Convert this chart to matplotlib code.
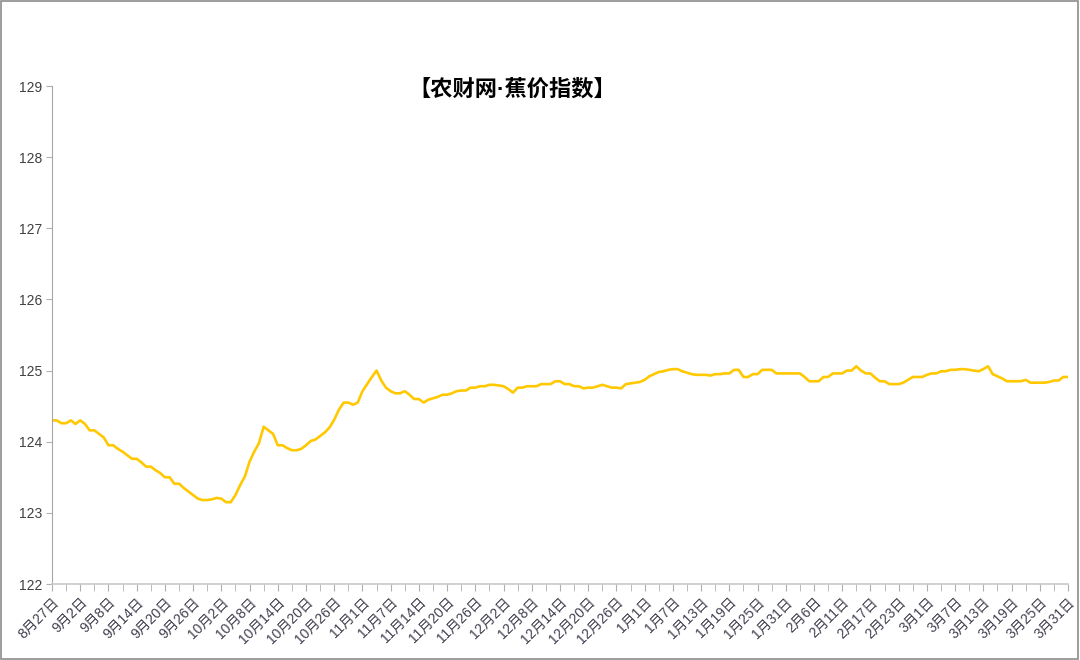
import numpy as np
import matplotlib
matplotlib.use('Agg')
import matplotlib.pyplot as plt
from matplotlib.patches import Rectangle

plt.rcParams['font.family'] = ['Liberation Sans', 'Noto Sans CJK SC', 'DejaVu Sans']

title = '【农财网·蕉价指数】'

# one label every 6 points
tick_labels = ['8月27日', '9月2日', '9月8日', '9月14日', '9月20日', '9月26日',
               '10月2日', '10月8日', '10月14日', '10月20日', '10月26日',
               '11月1日', '11月7日', '11月14日', '11月20日', '11月26日',
               '12月2日', '12月8日', '12月14日', '12月20日', '12月26日',
               '1月1日', '1月7日', '1月13日', '1月19日', '1月25日', '1月31日',
               '2月6日', '2月11日', '2月17日', '2月23日',
               '3月1日', '3月7日', '3月13日', '3月19日', '3月25日', '3月31日']

index_values = [
    124.30, 124.30, 124.26, 124.26, 124.30, 124.25, 124.30, 124.25, 124.16, 124.16,
    124.11, 124.06, 123.95, 123.95, 123.90, 123.86, 123.81, 123.76, 123.76, 123.71,
    123.65, 123.65, 123.60, 123.56, 123.50, 123.50, 123.41, 123.41, 123.35, 123.30,
    123.25, 123.20, 123.18, 123.18, 123.19, 123.21, 123.20, 123.15, 123.15, 123.25,
    123.39, 123.51, 123.72, 123.86, 123.98, 124.21, 124.16, 124.11, 123.95, 123.95,
    123.91, 123.88, 123.88, 123.90, 123.95, 124.01, 124.03, 124.08, 124.13, 124.20,
    124.31, 124.45, 124.55, 124.55, 124.52, 124.55, 124.71, 124.81, 124.91, 125.00,
    124.86, 124.76, 124.71, 124.68, 124.68, 124.71, 124.66, 124.60, 124.60, 124.55,
    124.59, 124.61, 124.63, 124.66, 124.66, 124.68, 124.71, 124.72, 124.72, 124.76,
    124.76, 124.78, 124.78, 124.80, 124.80, 124.79, 124.78, 124.74, 124.69, 124.76,
    124.76, 124.78, 124.78, 124.78, 124.81, 124.81, 124.81, 124.85, 124.85, 124.81,
    124.81, 124.78, 124.78, 124.75, 124.76, 124.76, 124.78, 124.80, 124.78, 124.76,
    124.76, 124.75, 124.81, 124.82, 124.83, 124.84, 124.87, 124.92, 124.95, 124.98,
    124.99, 125.01, 125.02, 125.02, 124.99, 124.97, 124.95, 124.94, 124.94, 124.94,
    124.93, 124.95, 124.95, 124.96, 124.96, 125.01, 125.01, 124.91, 124.91, 124.95,
    124.95, 125.01, 125.01, 125.01, 124.96, 124.96, 124.96, 124.96, 124.96, 124.96,
    124.91, 124.85, 124.85, 124.85, 124.91, 124.91, 124.96, 124.96, 124.96, 125.00,
    125.00, 125.06, 125.00, 124.96, 124.96, 124.90, 124.85, 124.85, 124.81, 124.81,
    124.81, 124.83, 124.87, 124.91, 124.91, 124.91, 124.94, 124.96, 124.96, 124.99,
    124.99, 125.01, 125.01, 125.02, 125.02, 125.01, 125.00, 124.99, 125.02, 125.06,
    124.95, 124.92, 124.89, 124.85, 124.85, 124.85, 124.85, 124.87, 124.83, 124.83,
    124.83, 124.83, 124.84, 124.86, 124.86, 124.91, 124.91,
]

x = np.arange(len(index_values))

fig = plt.figure(figsize=(10.8, 6.6), dpi=100)
ax = fig.add_axes([52 / 1080, 76 / 660, 1016 / 1080, 498 / 660])

ax.plot(x, index_values, color='#FFC800', linewidth=1.9)

ax.set_xlim(0, len(index_values) - 1)
ax.set_ylim(122, 129)
ax.set_yticks(range(122, 130))

ax.set_xticks(x[::6])
ax.set_xticklabels(tick_labels, rotation=45, ha='right', rotation_mode='anchor',
                   fontsize=10, color='#404050')
ax.set_xticks(x[::3], minor=True)
ax.tick_params(axis='x', which='both', length=5, color='#b0b0b0', pad=3)
ax.tick_params(axis='y', length=4, color='#b0b0b0', labelsize=10, labelcolor='#404040', pad=3)

for side in ['top', 'right']:
    ax.spines[side].set_visible(False)
ax.spines['left'].set_color('#a6a6a6')
ax.spines['bottom'].set_color('#c8c8c8')
ax.spines['bottom'].set_linewidth(1.2)

fig.text(512 / 1080, 1 - 90 / 660, title, ha='center', va='center',
         fontsize=16, fontweight='bold', family=['Liberation Sans', 'Noto Sans CJK SC'],
         color='black')

fig.patches.append(Rectangle((0.0005, 0.001), 0.998, 0.997, transform=fig.transFigure,
                             fill=False, edgecolor='#8c8c8c', linewidth=1.2))

fig.savefig('out.png', dpi=100)
